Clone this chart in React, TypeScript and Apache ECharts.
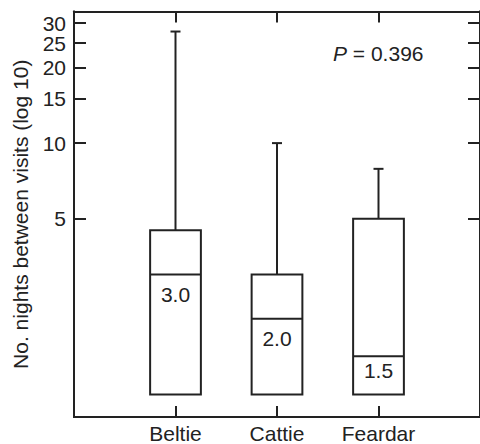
import React, { useEffect, useRef } from "react";
import * as echarts from "echarts";

const categories = ["Beltie", "Cattie", "Feardar"];
const whiskerLow = [1, 1, 1];
const q1Values = [1, 1, 1];
const medians = [3.0, 2.0, 1.42];
const q3Values = [4.5, 3.0, 5.0];
const whiskerHigh = [27.8, 10, 7.9];
const medianLabels = ["3.0", "2.0", "1.5"];
const yTicks = [5, 10, 15, 20, 25, 30];
const yMinRaw = 0.813;
const yMaxRaw = 33.4;
const pLabel = "0.396";

const FONT = "'Liberation Sans', Arial, Helvetica, sans-serif";
const INK = "#222";

export default function App() {
  const ref = useRef<HTMLDivElement>(null);
  useEffect(() => {
    document.body.style.margin = "0";
    if (!ref.current) return;
    const chart = echarts.init(ref.current, undefined, { renderer: "svg" });
    const lg = (v: number) => Math.log10(v);
    const data = categories.map((_, i) => [
      i + 1,
      lg(whiskerLow[i]),
      lg(q1Values[i]),
      lg(medians[i]),
      lg(q3Values[i]),
      lg(whiskerHigh[i]),
    ]);
    const yMin = lg(yMinRaw);
    const yMax = lg(yMaxRaw);
    const lineStyle = { color: INK, width: 2 };
    // split the ticks into two interleaved sets so that neighbouring labels never get culled
    const tickSets = [
      yTicks.filter((_, i) => i % 2 === 0).map(lg),
      yTicks.filter((_, i) => i % 2 === 1).map(lg),
    ];
    const yAxes: any[] = [];
    tickSets.forEach((vals, k) => {
      (["left", "right"] as const).forEach((pos) => {
        const isMain = k === 0 && pos === "left";
        yAxes.push({
          type: "value",
          position: pos,
          min: yMin,
          max: yMax,
          splitLine: { show: false },
          axisLine: { show: true, onZero: false, lineStyle },
          axisTick: { show: true, inside: true, length: 12, customValues: vals, lineStyle },
          axisLabel: {
            show: pos === "left",
            customValues: vals,
            showMaxLabel: true,
            showMinLabel: true,
            formatter: (v: number) => String(Math.round(Math.pow(10, v))),
            color: INK,
            fontSize: 21,
            lineHeight: 17,
            fontFamily: FONT,
            margin: 8,
          },
          ...(isMain
            ? {
                name: "No. nights between visits (log 10)",
                nameLocation: "middle",
                nameGap: 43,
                nameTextStyle: { color: INK, fontSize: 21, fontFamily: FONT },
              }
            : {}),
        });
      });
    });
    chart.setOption({
      animation: false,
      grid: { left: 74, top: 11.5, width: 409, height: 407, containLabel: false },
      xAxis: [
        {
          type: "value",
          position: "bottom",
          min: 0,
          max: 4,
          interval: 1,
          splitLine: { show: false },
          axisLine: { show: true, onZero: false, lineStyle },
          axisTick: { show: true, inside: true, length: 11, customValues: [1, 2, 3], lineStyle },
          axisLabel: {
            show: true,
            customValues: [1, 2, 3],
            formatter: (v: number) => categories[Math.round(v) - 1] ?? "",
            color: INK,
            fontSize: 21,
            fontFamily: FONT,
            margin: 6,
          },
        },
        {
          type: "value",
          position: "top",
          min: 0,
          max: 4,
          interval: 1,
          splitLine: { show: false },
          axisLine: { show: true, onZero: false, lineStyle },
          axisTick: { show: true, inside: true, length: 11, customValues: [1, 2, 3], lineStyle },
          axisLabel: { show: false },
        },
      ],
      yAxis: yAxes,
      graphic: [
        {
          type: "text",
          left: 333,
          top: 43,
          style: {
            text: "{i|P} = " + pLabel,
            font: `21px ${FONT}`,
            fill: INK,
            rich: {
              i: { fontStyle: "italic", fontSize: 21, fontFamily: FONT, fill: INK },
            },
          },
        },
      ],
      series: [
        {
          type: "custom",
          xAxisIndex: 0,
          yAxisIndex: 0,
          data,
          clip: false,
          renderItem: (params: any, api: any) => {
            const x = api.value(0);
            const lo = api.value(1);
            const q1 = api.value(2);
            const med = api.value(3);
            const q3 = api.value(4);
            const hi = api.value(5);
            const cx = api.coord([x, med])[0];
            const yLo = api.coord([x, lo])[1];
            const yQ1 = api.coord([x, q1])[1];
            const yMed = api.coord([x, med])[1];
            const yQ3 = api.coord([x, q3])[1];
            const yHi = api.coord([x, hi])[1];
            const half = api.size([1, 0])[0] * 0.25;
            const cap = 5;
            const st = { stroke: INK, lineWidth: 2, fill: null };
            const children: any[] = [
              { type: "line", shape: { x1: cx, y1: yQ3, x2: cx, y2: yHi }, style: st },
              { type: "line", shape: { x1: cx - cap, y1: yHi, x2: cx + cap, y2: yHi }, style: st },
              {
                type: "rect",
                shape: { x: cx - half, y: yQ3, width: half * 2, height: yQ1 - yQ3 },
                style: { stroke: INK, lineWidth: 2, fill: "rgba(0,0,0,0)" },
              },
              { type: "line", shape: { x1: cx - half, y1: yMed, x2: cx + half, y2: yMed }, style: st },
              {
                type: "text",
                x: cx,
                y: yMed + Math.min(20, (yQ1 - yMed) * 0.38),
                style: {
                  text: medianLabels[params.dataIndex],
                  textAlign: "center",
                  textVerticalAlign: "middle",
                  font: `21px ${FONT}`,
                  fill: INK,
                },
              },
            ];
            if (yLo - yQ1 > 1) {
              children.push({ type: "line", shape: { x1: cx, y1: yQ1, x2: cx, y2: yLo }, style: st });
              children.push({ type: "line", shape: { x1: cx - cap, y1: yLo, x2: cx + cap, y2: yLo }, style: st });
            }
            return { type: "group", children };
          },
        },
      ],
    });
    return () => chart.dispose();
  }, []);
  return <div ref={ref} style={{ width: 480, height: 444 }} />;
}
